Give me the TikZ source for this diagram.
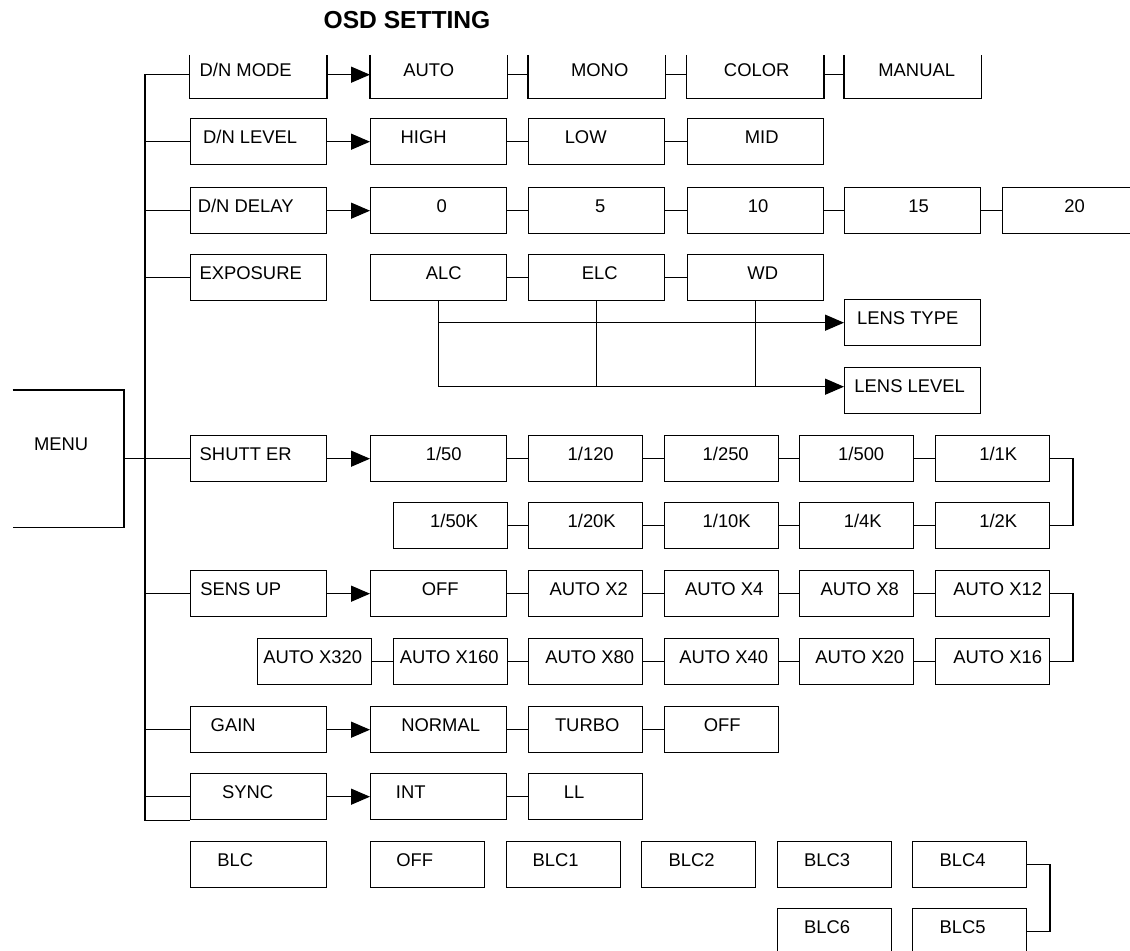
\documentclass[tikz,border=0pt]{standalone}
\usepackage{fontspec}
\setmainfont{Liberation Sans}
\usepackage{tikz}
\usetikzlibrary{arrows.meta}

\begin{document}
\begin{tikzpicture}[
  x=0.5pt, y=-0.5pt,
  line width=0.7pt,
  font=\fontsize{9.2}{11}\selectfont,
  box/.style={draw, anchor=north west, minimum width=68pt, minimum height=23pt, inner sep=0pt, text height=5.5pt, text depth=4pt},
  narrow/.style={box, minimum width=57pt},
  bare/.style={box, draw=none},
  nudge/.style={execute at begin node={\hspace*{#1}}},
  arrow/.style={-{Triangle[length=9.5pt, width=8pt]}},
  title/.style={font=\fontsize{12.3}{14}\selectfont\bfseries, anchor=base}
]
\useasboundingbox (0,0) rectangle (1130,951);

% Title
\node[title] (title) at (407,29) {OSD SETTING};

% Menu (open on the left)
\node[bare, minimum width=55pt, minimum height=68pt, text height=1pt, text depth=9pt, nudge=-7pt] (menu) at (12.5,390) {MENU};
\draw (menu.north west) -- (menu.north east) -- (menu.south east) -- (menu.south west);

% D/N MODE row (open at the top)
\node[bare, nudge=-12.5pt] (dnmode) at (189.5,51) {D/N MODE};
\node[bare, nudge=-10pt] (auto) at (370,51) {AUTO};
\node[bare, nudge=3pt] (mono) at (528,51) {MONO};
\node[bare, nudge=1.5pt] (color) at (686.5,51) {COLOR};
\node[bare, nudge=4pt] (manual) at (844,51) {MANUAL};
\foreach \n in {dnmode,auto,mono,color,manual}
  \draw ([yshift=-2pt]\n.north west) -- (\n.south west) -- (\n.south east) -- ([yshift=-2pt]\n.north east);

% D/N LEVEL
\node[box, nudge=-8pt] (dnlevel) at (189.5,118) {D/N LEVEL};
\node[box, nudge=-15pt] (high) at (370,118) {HIGH};
\node[box, nudge=-11pt] (low) at (528,118) {LOW};
\node[box, nudge=6.5pt] (mid) at (686.5,118) {MID};

% D/N DELAY
\node[box, nudge=-12.5pt] (dndelay) at (189.5,187) {D/N DELAY};
\node[box, nudge=3pt] (d0) at (370,187) {0};
\node[box, nudge=3.5pt] (d5) at (528,187) {5};
\node[box, nudge=3pt] (d10) at (686.5,187) {10};
\node[box, nudge=6pt] (d15) at (844,187) {15};
\node[box, nudge=4pt] (d20) at (1002,187) {20};

% Exposure
\node[box, nudge=-7.5pt] (exposure) at (189.5,254) {EXPOSURE};
\node[box, nudge=5pt] (alc) at (370,254) {ALC};
\node[box, nudge=3pt] (elc) at (528,254) {ELC};
\node[box, nudge=7.5pt] (wd) at (686.5,254) {WD};
\node[box, nudge=-5pt] (lenstype) at (844,299) {LENS TYPE};
\node[box, nudge=-3pt] (lenslevel) at (844,367) {LENS LEVEL};

% Shutter
\node[box, nudge=-12.5pt] (shutter) at (189.5,435) {SHUTT ER};
\node[box, nudge=5pt] (s50) at (370,435) {1/50};
\node[narrow, nudge=5pt] (s120) at (528,435) {1/120};
\node[narrow, nudge=4.5pt] (s250) at (663.5,435) {1/250};
\node[narrow, nudge=4.5pt] (s500) at (799,435) {1/500};
\node[narrow, nudge=6pt] (s1k) at (934.5,435) {1/1K};
\node[narrow, nudge=4pt] (s50k) at (392.5,502) {1/50K};
\node[narrow, nudge=6pt] (s20k) at (528,502) {1/20K};
\node[narrow, nudge=5.5pt] (s10k) at (663.5,502) {1/10K};
\node[narrow, nudge=6pt] (s4k) at (799,502) {1/4K};
\node[narrow, nudge=6pt] (s2k) at (934.5,502) {1/2K};

% Sens up
\node[box, nudge=-17.5pt] (sensup) at (189.5,570) {SENS UP};
\node[box, nudge=1.5pt] (soff) at (370,570) {OFF};
\node[narrow, nudge=3pt] (x2) at (528,570) {AUTO X2};
\node[narrow, nudge=3pt] (x4) at (663.5,570) {AUTO X4};
\node[narrow, nudge=3pt] (x8) at (799,570) {AUTO X8};
\node[narrow, nudge=5.5pt] (x12) at (934.5,570) {AUTO X12};
\node[narrow, nudge=-2pt] (x320) at (257,638) {AUTO X320};
\node[narrow, nudge=-1pt] (x160) at (392.5,638) {AUTO X160};
\node[narrow, nudge=4pt] (x80) at (528,638) {AUTO X80};
\node[narrow, nudge=2.5pt] (x40) at (663.5,638) {AUTO X40};
\node[narrow, nudge=3pt] (x20) at (799,638) {AUTO X20};
\node[narrow, nudge=5.5pt] (x16) at (934.5,638) {AUTO X16};

% Gain
\node[box, nudge=-25pt] (gain) at (189.5,706) {GAIN};
\node[box, nudge=2pt] (normal) at (370,706) {NORMAL};
\node[narrow, nudge=1.5pt] (turbo) at (528,706) {TURBO};
\node[narrow, nudge=1pt] (goff) at (663.5,706) {OFF};

% Sync
\node[box, nudge=-10.5pt] (sync) at (189.5,773) {SYNC};
\node[box, nudge=-28pt] (int) at (370,773) {INT};
\node[narrow, nudge=-11.5pt] (ll) at (528,773) {LL};

% BLC
\node[box, nudge=-23pt] (blc) at (189.5,841) {BLC};
\node[narrow, nudge=-13pt] (boff) at (370,841) {OFF};
\node[narrow, nudge=-8pt] (blc1) at (506,841) {BLC1};
\node[narrow, nudge=-7pt] (blc2) at (641,841) {BLC2};
\node[narrow, nudge=-7pt] (blc3) at (776.5,841) {BLC3};
\node[narrow, nudge=-7pt] (blc4) at (912,841) {BLC4};
\node[narrow, nudge=-7pt] (blc6) at (776.5,908) {BLC6};
\node[narrow, nudge=-7pt] (blc5) at (912,908) {BLC5};

% Trunk from the menu
\path (sync.south west) ++(-44.5,0) coordinate (trunkbot);
\draw (dnmode.west) -| (trunkbot) -- (sync.south west);
\foreach \n in {dnlevel,dndelay,exposure,shutter,sensup,gain,sync}
  \draw (\n.west) -- (\n.west -| trunkbot);
\draw (menu.east) -- (shutter.west);

% Arrows into the first option
\foreach \a/\b in {dnmode/auto, dnlevel/high, dndelay/d0, shutter/s50, sensup/soff, gain/normal, sync/int}
  \draw[arrow] (\a.east) -- (\b.west);

% Option chains
\foreach \a/\b in {auto/mono, mono/color, color/manual, high/low, low/mid,
    d0/d5, d5/d10, d10/d15, d15/d20, alc/elc, elc/wd,
    s50/s120, s120/s250, s250/s500, s500/s1k, s50k/s20k, s20k/s10k, s10k/s4k, s4k/s2k,
    soff/x2, x2/x4, x4/x8, x8/x12, x320/x160, x160/x80, x80/x40, x40/x20, x20/x16,
    normal/turbo, turbo/goff, int/ll}
  \draw (\a.east) -- (\b.west);

% Wrap-around brackets
\draw (s1k.east) -- ++(23,0) |- (s2k.east);
\draw (x12.east) -- ++(23,0) |- (x16.east);
\draw (blc4.east) -- ++(22.5,0) |- (blc5.east);

% Exposure to lens settings
\coordinate (lvl) at ([yshift=2pt]lenslevel.west);
\foreach \n in {alc,elc,wd}
  \draw (\n.south) -- (\n.south |- lvl);
\draw[arrow] (alc.south |- lenstype.west) -- (lenstype.west);
\draw[arrow] (alc.south |- lvl) -- (lvl);

\end{tikzpicture}
\end{document}
